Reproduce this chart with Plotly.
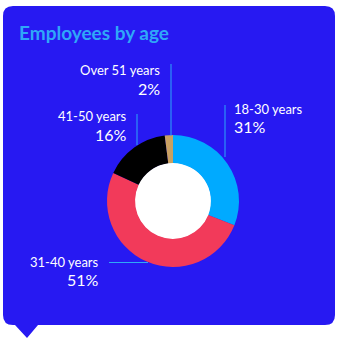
import plotly.graph_objects as go

# ---- data ----
categories = ["18-30 years", "31-40 years", "41-50 years", "Over 51 years"]
values = [31, 51, 16, 2]
pct_labels = ["31%", "51%", "16%", "2%"]
colors = ["#00AAFF", "#F23A5A", "#000000", "#C9A062"]

W, H = 340, 341
CARD = "#2719F2"
ACCENT = "#2FA8F8"
FONT = "Lato"

fig = go.Figure()

# invisible axes covering the whole page, in pixel units
fig.update_xaxes(range=[0, W], visible=False, fixedrange=True)
fig.update_yaxes(range=[H, 0], visible=False, fixedrange=True)
fig.add_trace(go.Scatter(x=[0, W], y=[0, H], mode="markers",
                         marker=dict(opacity=0), hoverinfo="skip", showlegend=False))

cx, cy, R = 173, 201, 66
fig.add_trace(go.Pie(
    values=values, labels=categories, sort=False, direction="clockwise",
    rotation=0, hole=0.575, textinfo="none", showlegend=False,
    marker=dict(colors=colors, line=dict(width=0)),
    domain=dict(x=[(cx - R) / W, (cx + R) / W], y=[1 - (cy + R) / H, 1 - (cy - R) / H]),
))

# card with rounded corners and pointer
x0, y0, x1, y1, r = 3, 6, 335, 325, 10
card_path = (f"M {x0+r},{y0} L {x1-r},{y0} Q {x1},{y0} {x1},{y0+r} "
             f"L {x1},{y1-r} Q {x1},{y1} {x1-r},{y1} L {38},{y1} L {27},{338} L {15},{y1} "
             f"L {x0+r},{y1} Q {x0},{y1} {x0},{y1-r} L {x0},{y0+r} Q {x0},{y0} {x0+r},{y0} Z")
shapes = [
    dict(type="path", path=card_path, xref="x", yref="y", fillcolor=CARD,
         line=dict(width=0), layer="below"),
    dict(type="circle", xref="x", yref="y", x0=cx - 38.5, x1=cx + 38.5, y0=cy - 38.5, y1=cy + 38.5,
         fillcolor="white", line=dict(width=0), layer="below"),
]

# leader lines
leaders = [
    (225, 105, 225, 157),   # 18-30
    (109, 262.5, 148, 262.5),  # 31-40
    (137, 114, 137, 145),   # 41-50
    (171, 64, 171, 136),    # over 51
]
for (a, b, c, d) in leaders:
    shapes.append(dict(type="line", xref="x", yref="y", x0=a, y0=b, x1=c, y1=d,
                       line=dict(color=ACCENT, width=1)))

# label positions: (x, y_name, y_pct, anchor)
label_pos = [
    (232, 109, 126, "left"),
    (101, 262, 279, "right"),
    (129, 116, 134, "right"),
    (162, 70, 88, "right"),
]
annotations = [dict(text="<b>Employees by age</b>", x=17, y=32, xref="x", yref="y",
                    xanchor="left", yanchor="middle", showarrow=False,
                    font=dict(family=FONT, size=19, color=ACCENT))]
for cat, pct, (lx, ly1, ly2, anc) in zip(categories, pct_labels, label_pos):
    annotations.append(dict(text=cat, x=lx, y=ly1, xref="x", yref="y", xanchor=anc,
                            yanchor="middle", showarrow=False,
                            font=dict(family=FONT, size=13, color="white")))
    annotations.append(dict(text=pct, x=lx, y=ly2, xref="x", yref="y", xanchor=anc,
                            yanchor="middle", showarrow=False,
                            font=dict(family=FONT, size=16, color="white")))

fig.update_layout(
    width=W, height=H, margin=dict(l=0, r=0, t=0, b=0),
    paper_bgcolor="white", plot_bgcolor="rgba(0,0,0,0)",
    shapes=shapes, annotations=annotations,
)

fig.write_html("out.html", config={"displayModeBar": False})
